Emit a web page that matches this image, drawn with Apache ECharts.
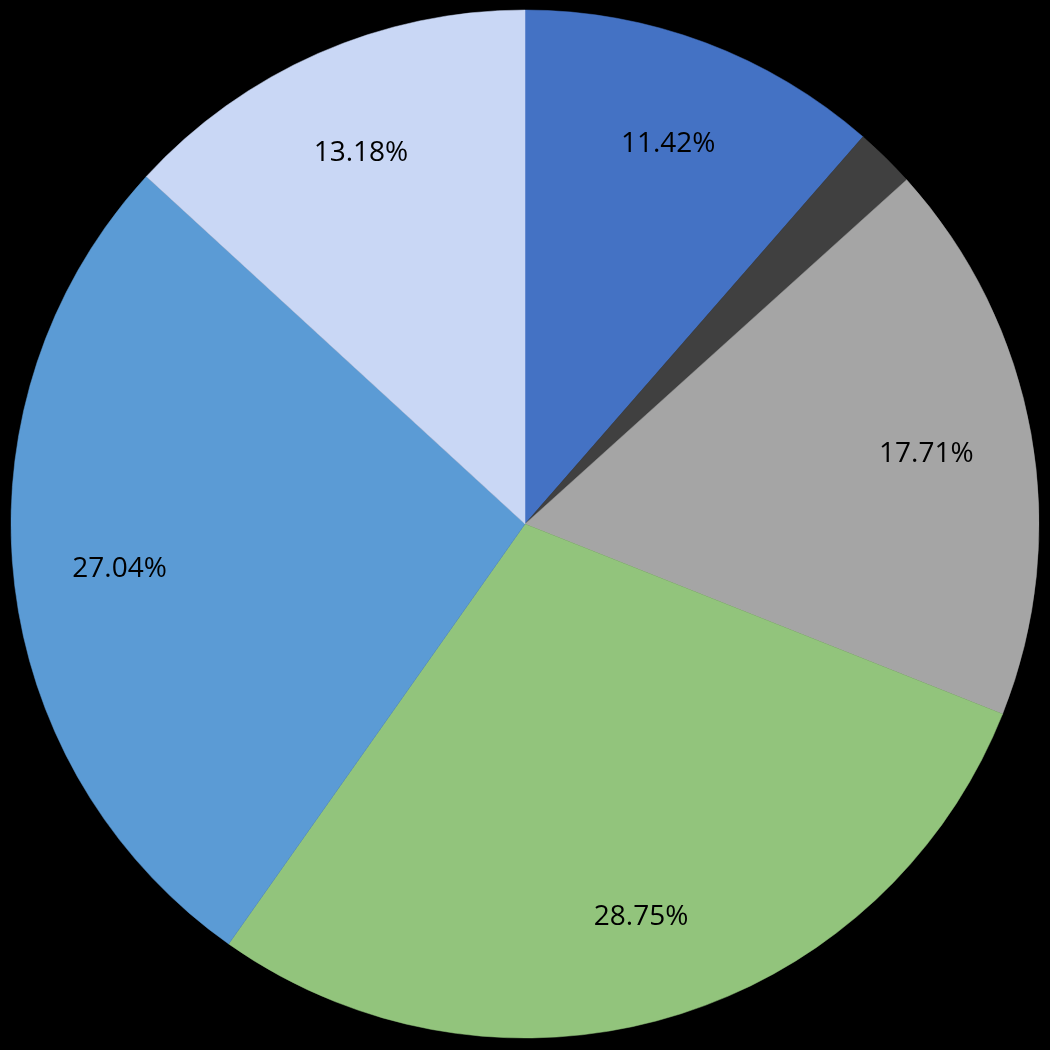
<!DOCTYPE html>
<html>
<head>
<meta charset="utf-8">
<script src="https://cdn.jsdelivr.net/npm/echarts@6/dist/echarts.min.js"></script>
<style>
  html, body { margin: 0; padding: 0; background: #000; }
  #chart { width: 1050px; height: 1050px; }
</style>
</head>
<body>
<div id="chart"></div>
<script>
// 数据：顺时针从12点方向开始
const names = ['A', 'B', 'C', 'D', 'E', 'F'];
const values = [11.42, 1.90, 17.71, 28.75, 27.04, 13.18];
const colors = ['#4472C4', '#404040', '#A5A5A5', '#92C47C', '#5B9BD5', '#C9D7F5'];
const showLabel = [true, false, true, true, true, true];

const chart = echarts.init(document.getElementById('chart'));

const center = [525, 524];
const radius = 514;

const option = {
  backgroundColor: '#000000',
  animation: false,
  series: [
    // 实际的扇区
    {
      type: 'pie',
      center: center,
      radius: [0, radius],
      startAngle: 90,
      clockwise: true,
      silent: true,
      label: { show: false },
      labelLine: { show: false },
      data: values.map((v, i) => ({
        name: names[i],
        value: v,
        // 同色描边，去掉扇区之间的细缝
        itemStyle: { color: colors[i], borderColor: colors[i], borderWidth: 0.5 },
      })),
    },
    // 透明的环形，只用于把标签放到外侧
    {
      type: 'pie',
      center: [525, 526],
      radius: [radius * 0.575, radius],
      startAngle: 90,
      clockwise: true,
      silent: true,
      labelLine: { show: false },
      itemStyle: { color: 'rgba(0,0,0,0)', borderWidth: 0 },
      label: {
        position: 'inside',
        color: '#000000',
        fontFamily: 'Open Sans',
        fontSize: 28,
        formatter: (p) => values[p.dataIndex].toFixed(2) + '%',
      },
      data: values.map((v, i) => ({
        name: names[i],
        value: v,
        label: { show: showLabel[i] },
      })),
    },
  ],
};

chart.setOption(option);
</script>
</body>
</html>
